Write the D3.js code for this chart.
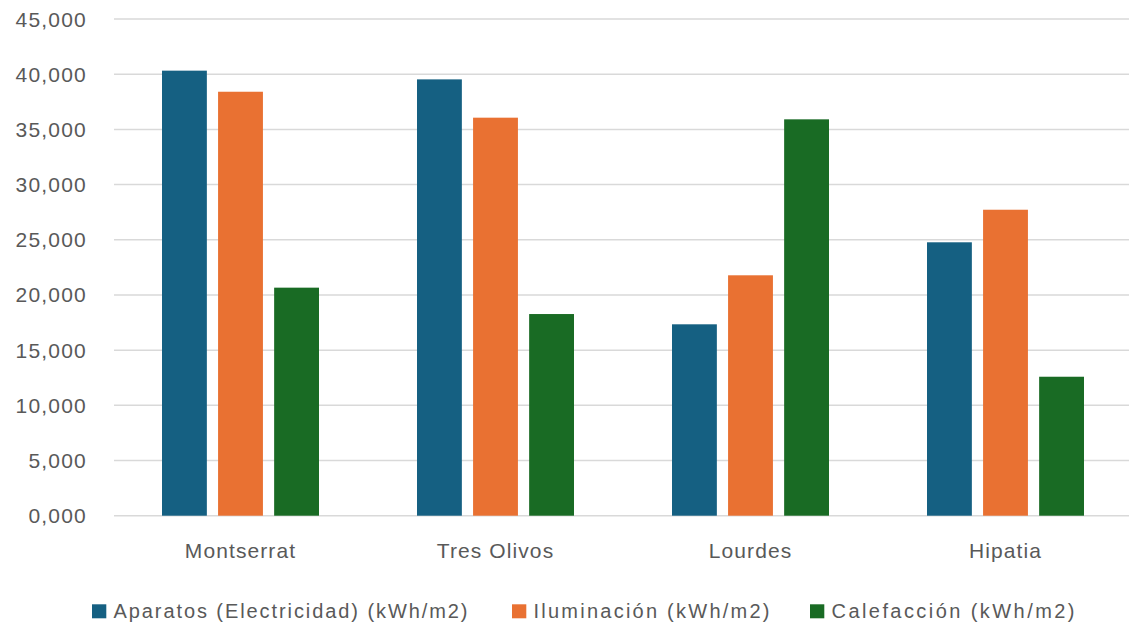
<!DOCTYPE html>
<html>
<head>
<meta charset="utf-8">
<script src="https://cdn.jsdelivr.net/npm/d3@7"></script>
<style>
  html, body { margin: 0; padding: 0; background: #ffffff; }
  svg { display: block; font-family: "Liberation Sans", Arial, sans-serif; }
</style>
</head>
<body>
<svg id="chart" width="1129" height="628"></svg>
<script>
// Energy use per building (kWh/m2)
const categories = ["Montserrat", "Tres Olivos", "Lourdes", "Hipatia"];
const aparatos    = [40320, 39530, 17340, 24770];
const iluminacion = [38410, 36060, 21780, 27720];
const calefaccion = [20660, 18270, 35910, 12590];
const seriesNames = [
  "Aparatos (Electricidad) (kWh/m2)",
  "Iluminación (kWh/m2)",
  "Calefacción (kWh/m2)"
];
const seriesColors = ["#156082", "#E97132", "#196B24"];
const yTicks = [0, 5000, 10000, 15000, 20000, 25000, 30000, 35000, 40000, 45000];

const seriesValues = [aparatos, iluminacion, calefaccion];

const svg = d3.select("#chart");
const plot = { left: 113, right: 1133, top: 19, bottom: 515.7 };

const x0 = d3.scaleBand()
  .domain(categories)
  .range([plot.left, plot.right])
  .paddingInner(0)
  .paddingOuter(0);

const groupInset = 49;
const x1 = d3.scaleBand()
  .domain(d3.range(seriesNames.length))
  .range([groupInset, x0.bandwidth() - groupInset])
  .paddingInner(0.2)
  .paddingOuter(0);

const y = d3.scaleLinear()
  .domain([0, 45000])
  .range([plot.bottom, plot.top]);

const fmt = d3.format("05,");

// Horizontal gridlines
svg.append("g")
  .selectAll("line")
  .data(yTicks)
  .join("line")
  .attr("x1", 114)
  .attr("x2", 1129)
  .attr("y1", d => y(d))
  .attr("y2", d => y(d))
  .attr("stroke", "#d9d9d9")
  .attr("stroke-width", 1.5);

// Y-axis labels
svg.append("g")
  .selectAll("text")
  .data(yTicks)
  .join("text")
  .attr("x", 87)
  .attr("y", d => y(d) + 7.5)
  .attr("text-anchor", "end")
  .attr("font-size", 21)
  .attr("letter-spacing", 1.2)
  .attr("fill", "#595959")
  .text(d => fmt(d));

// Bars
const groups = svg.append("g")
  .selectAll("g")
  .data(categories)
  .join("g")
  .attr("transform", d => `translate(${x0(d)},0)`);

groups.selectAll("rect")
  .data((c, i) => seriesValues.map((vals, s) => ({ s, v: vals[i] })))
  .join("rect")
  .attr("x", d => x1(d.s))
  .attr("width", x1.bandwidth())
  .attr("y", d => y(d.v))
  .attr("height", d => y(0) - y(d.v))
  .attr("fill", d => seriesColors[d.s]);

// Category labels
svg.append("g")
  .selectAll("text")
  .data(categories)
  .join("text")
  .attr("x", d => x0(d) + x0.bandwidth() / 2)
  .attr("y", 558)
  .attr("text-anchor", "middle")
  .attr("font-size", 21)
  .attr("letter-spacing", 1.1)
  .attr("fill", "#595959")
  .text(d => d);

// Legend: swatch + label per series
const legendX = [92, 512, 810];
const legendTextWidth = [354, 236, 243];
const legend = svg.append("g");
seriesNames.forEach((name, i) => {
  const item = legend.append("g").attr("transform", `translate(${legendX[i]},0)`);
  item.append("rect")
    .attr("x", 0)
    .attr("y", 604.3)
    .attr("width", 14.3)
    .attr("height", 14)
    .attr("fill", seriesColors[i]);
  item.append("text")
    .attr("x", 21.5)
    .attr("y", 618.3)
    .attr("font-size", 20)
    .attr("textLength", legendTextWidth[i])
    .attr("lengthAdjust", "spacing")
    .attr("fill", "#595959")
    .text(name);
});
</script>
</body>
</html>
